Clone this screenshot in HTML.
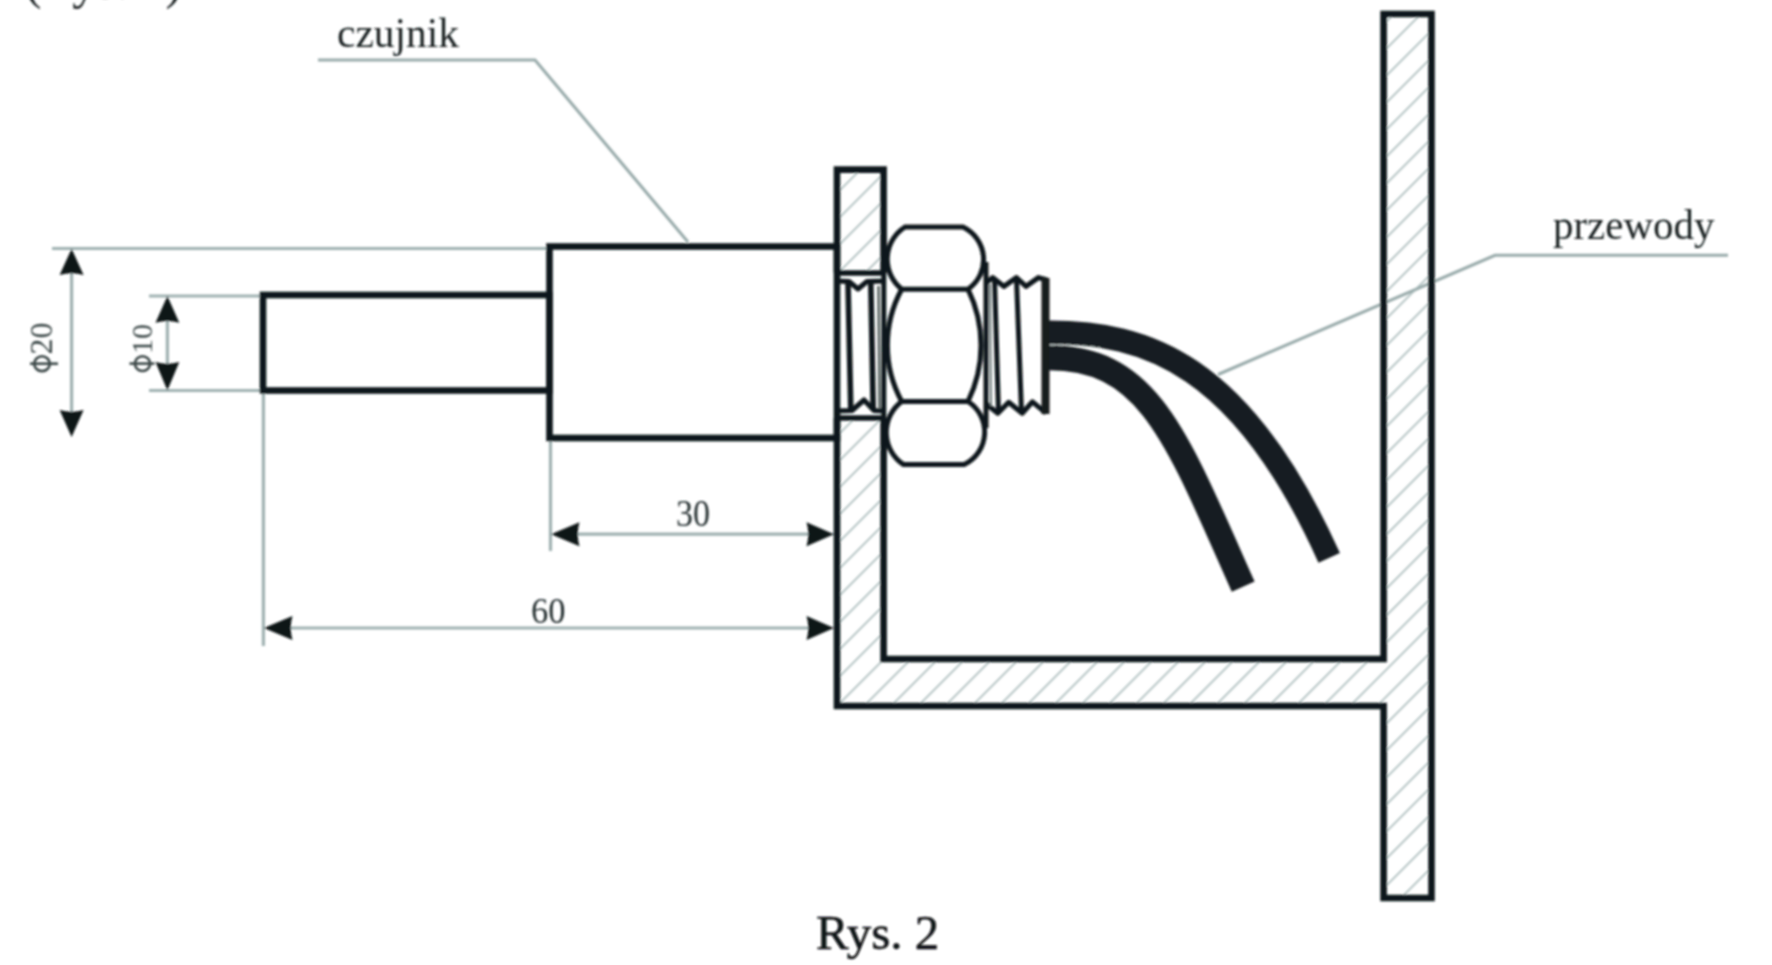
<!DOCTYPE html>
<html><head><meta charset="utf-8">
<style>
html,body{margin:0;padding:0;background:#ffffff;width:1772px;height:965px;overflow:hidden}
svg{display:block}
text{font-family:"Liberation Serif",serif}
</style></head><body>
<svg width="1772" height="965" viewBox="0 0 1772 965">
<defs>
<filter id="bl" x="0" y="0" width="1772" height="965" filterUnits="userSpaceOnUse"><feGaussianBlur stdDeviation="1"/></filter>
<pattern id="hat" patternUnits="userSpaceOnUse" width="19.09" height="19.09" patternTransform="rotate(45) translate(2.12 0)">
<rect x="-1.5" y="-1" width="3" height="22" fill="#9db1b1"/>
</pattern>
</defs>
<g filter="url(#bl)">

<!-- top cut text -->
<text x="25" y="-2.5" font-size="52" fill="#1a2224" textLength="157" lengthAdjust="spacingAndGlyphs">(Rys. 2)</text>

<!-- labels -->
<text x="337" y="47.3" font-size="43" fill="#1a2224" textLength="122" lengthAdjust="spacingAndGlyphs">czujnik</text>
<text x="1553" y="238.5" font-size="43" fill="#1a2224" textLength="161.5" lengthAdjust="spacingAndGlyphs">przewody</text>
<text x="816" y="949" font-size="49" fill="#0c1214" stroke="#0c1214" stroke-width="0.5">Rys. 2</text>

<!-- leader lines -->
<g fill="none" stroke="#98aaaa" stroke-width="3">
<polyline points="318,60 535,60 688,242"/>
<polyline points="1218,374.5 1495,255.3 1728,255.3"/>
</g>

<!-- hatch fills -->
<g fill="url(#hat)">
<rect x="837" y="169.6" width="46.6" height="103"/>
<polygon points="837,419 883.6,419 883.6,659 1383.6,659 1383.6,14 1431.5,14 1431.5,898 1383.6,898 1383.6,706 837,706"/>
</g>

<!-- dimension extension/dim lines -->
<g fill="none" stroke="#9fb1b1" stroke-width="3.2">
<line x1="52" y1="248.5" x2="549" y2="248.5"/>
<line x1="71.6" y1="262" x2="71.6" y2="424"/>
<line x1="149" y1="296" x2="263" y2="296"/>
<line x1="149" y1="390.5" x2="263" y2="390.5"/>
<line x1="167.4" y1="310" x2="167.4" y2="376"/>
<line x1="550.5" y1="438" x2="550.5" y2="551"/>
<line x1="565" y1="534.2" x2="820" y2="534.2"/>
<line x1="263.4" y1="390" x2="263.4" y2="646"/>
<line x1="278" y1="628" x2="820" y2="628"/>
</g>
<!-- arrows -->
<g fill="#111819">
<path d="M71.6 248.7 L59.6 275.0 Q71.6 271.5 83.6 275.0 Z"/>
<path d="M71.6 437.0 L59.6 410.0 Q71.6 413.5 83.6 410.0 Z"/>
<path d="M167.4 296.0 L155.5 322.7 Q167.4 319.2 179.3 322.7 Z"/>
<path d="M167.4 390.5 L155.5 362.0 Q167.4 365.5 179.3 362.0 Z"/>
<path d="M551.0 534.2 L579.5 522.2 Q576.0 534.2 579.5 546.2 Z"/>
<path d="M834.0 534.2 L806.5 522.2 Q810.0 534.2 806.5 546.2 Z"/>
<path d="M263.8 628.0 L292.5 616.0 Q289.0 628.0 292.5 640.0 Z"/>
<path d="M834.0 628.0 L806.5 616.0 Q810.0 628.0 806.5 640.0 Z"/>
</g>

<!-- dimension texts -->
<text x="676" y="526.4" font-size="37" fill="#263032" textLength="34" lengthAdjust="spacingAndGlyphs">30</text>
<text x="531" y="622.5" font-size="35" fill="#263032" textLength="34.5" lengthAdjust="spacingAndGlyphs">60</text>
<g fill="#3a4646">
<text transform="translate(51.8 354.5) rotate(-90)" font-size="32">20</text>
<text transform="translate(151.8 354) rotate(-90)" font-size="30">10</text>
</g>
<g fill="none" stroke="#3a4646" stroke-width="2.6">
<ellipse cx="42" cy="363.7" rx="7.8" ry="7.4"/>
<line x1="30" y1="363.7" x2="58" y2="363.7"/>
<ellipse cx="142.5" cy="363.6" rx="7.6" ry="7.4"/>
<line x1="129.5" y1="363.6" x2="154.5" y2="363.6"/>
</g>

<!-- main thick outlines -->
<g fill="none" stroke="#10181a" stroke-width="6.6" stroke-linejoin="miter">
<rect x="263" y="295" width="286.5" height="95.5"/>
<rect x="549.5" y="246.5" width="287.5" height="191.5"/>
<!-- plate top -->
<polyline points="837,272.5 837,169.6 883.6,169.6 883.6,272.5"/>
<!-- channel + wall -->
<polyline points="837,418 837,706 1383.6,706 1383.6,898 1431.5,898 1431.5,14 1383.6,14 1383.6,659 883.6,659 883.6,418"/>
</g>

<!-- left thread (inside plate) -->
<g fill="none" stroke="#10181a" stroke-width="5" stroke-linejoin="round">
<line x1="837" y1="270" x2="837" y2="420"/>
<line x1="883.8" y1="270" x2="883.8" y2="420"/>
<line x1="835" y1="273" x2="886" y2="273" stroke-width="5.5"/>
<path d="M835 281 L849 281.5 L858 289 L867 281.5 L886 281" stroke-width="5"/>
<path d="M835 411 L852 410.5 L864 400 L874 410.5 L886 411" stroke-width="5"/>
<line x1="835" y1="418" x2="886" y2="418" stroke-width="5.5"/>
<path d="M848 283 L850.8 410 M870.8 283 L873.2 410" stroke-width="5.6"/>
<path d="M878.5 286 L879.5 408" stroke="#55605f" stroke-width="2.6"/>
</g>

<!-- nut -->
<g fill="none" stroke="#10181a" stroke-width="5">
<path d="M905 227 L963 227 A36 36 0 0 1 968 289.2 L901.7 289.2 A38.2 38.2 0 0 1 905 227 Z"/>
<path d="M901.7 289.2 A117.3 117.3 0 0 0 901.7 401.5 M968 289.2 A127.7 127.7 0 0 1 968 401.5"/>
<line x1="901.7" y1="401.5" x2="968" y2="401.5"/>
<path d="M901.7 401.5 A38.6 38.6 0 0 0 903.6 464.6 L964.2 464.6 A36.2 36.2 0 0 0 968 401.5"/>
<line x1="986" y1="262" x2="986" y2="428"/>
</g>

<!-- right thread -->
<g fill="none" stroke="#10181a" stroke-width="5" stroke-linejoin="round">
<path d="M986 283 L992.6 277.6 L1004 286.4 L1016.4 277.6 L1026 286.4 L1038.4 277.6 L1047 280"/>
<path d="M985.4 403.3 L997.8 413.2 L1008.7 402.3 L1022.2 413.2 L1032.5 401.8 L1046 413.2"/>
<path d="M994.5 279 L998.5 412 M1016.5 279 L1021.5 412"/>
<path d="M990 284 L991 406" stroke="#6a7777" stroke-width="2"/>
<rect x="1041.5" y="278" width="8" height="136" fill="#121a1b" stroke="none"/>
</g>

<!-- cables -->
<g fill="none" stroke="#161e20" stroke-linecap="butt">
<path d="M1049 332.2 C1145.6 332.2 1241.5 362.9 1329.2 557.9" stroke-width="23.5"/>
<path d="M1049 357.8 C1149 357.8 1175.8 435.5 1243.2 586.7" stroke-width="25"/>
</g>
<path d="M1050 345 C1070 344.8 1085 345.5 1100 348" fill="none" stroke="#a4b0b0" stroke-width="1.3" stroke-dasharray="5 3"/>

</g>
</svg>
</body></html>
